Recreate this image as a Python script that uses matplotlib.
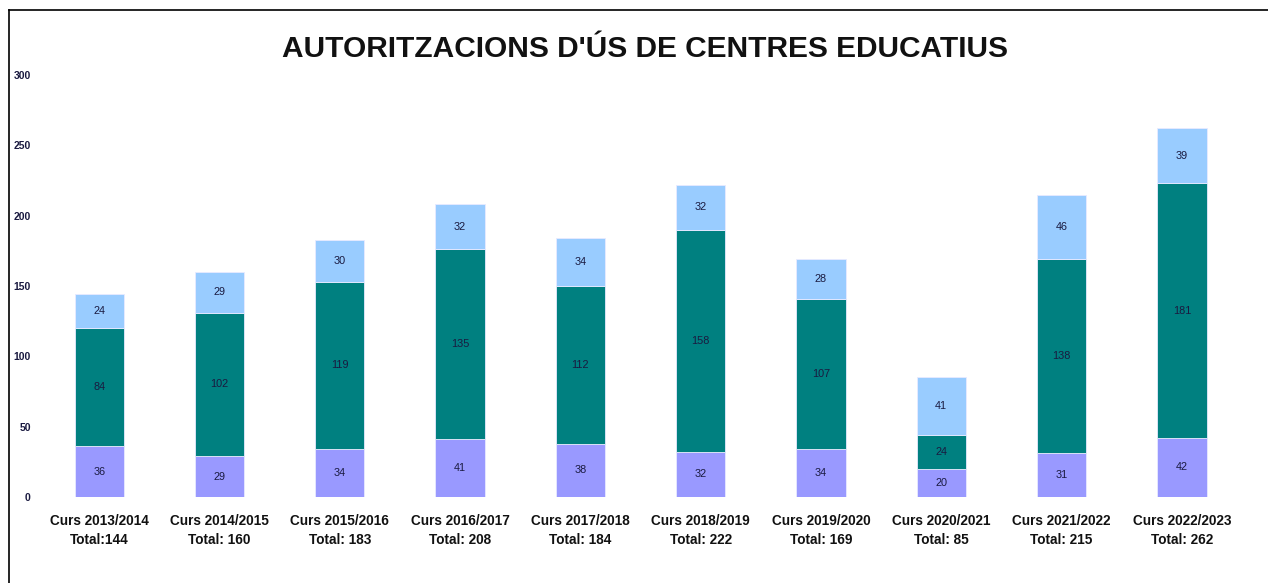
import matplotlib
matplotlib.use("Agg")
import matplotlib.pyplot as plt
from matplotlib.lines import Line2D
import numpy as np

plt.rcParams['font.family'] = ['Liberation Sans', 'DejaVu Sans']

cursos = ["Curs 2013/2014", "Curs 2014/2015", "Curs 2015/2016", "Curs 2016/2017",
          "Curs 2017/2018", "Curs 2018/2019", "Curs 2019/2020", "Curs 2020/2021",
          "Curs 2021/2022", "Curs 2022/2023"]
totals = ["Total:144", "Total: 160", "Total: 183", "Total: 208", "Total: 184",
          "Total: 222", "Total: 169", "Total: 85", "Total: 215", "Total: 262"]
serie_baixa = [36, 29, 34, 41, 38, 32, 34, 20, 31, 42]
serie_mitja = [84, 102, 119, 135, 112, 158, 107, 24, 138, 181]
serie_alta = [24, 29, 30, 32, 34, 32, 28, 41, 46, 39]
yticks = [0, 50, 100, 150, 200, 250, 300]

colors = ["#9999FF", "#008080", "#99CCFF"]
label_color = "#1a1a40"

fig = plt.figure(figsize=(12.68, 5.83), dpi=100)
ax = fig.add_axes([0.0308, 0.1475, 0.9487, 0.7239])

x = np.arange(len(cursos))
w = 0.41
bottom = np.zeros(len(x))
for vals, c in zip([serie_baixa, serie_mitja, serie_alta], colors):
    bars = ax.bar(x, vals, w, bottom=bottom, color=c, edgecolor="#e8eaff", linewidth=0.6)
    ax.bar_label(bars, labels=[str(v) for v in vals], label_type='center',
                 fontsize=7.8, color=label_color)
    bottom += np.array(vals)

ax.set_xlim(-0.5, len(x) - 0.5)
ax.set_ylim(0, 300)
ax.set_yticks(yticks)
ax.set_yticklabels([str(t) for t in yticks], fontsize=7.5, color=label_color, fontweight='bold')
ax.set_xticks(x)
ax.set_xticklabels([f"{c}\n{t}" for c, t in zip(cursos, totals)], fontsize=9.8,
                   fontweight='bold', color="#111111", linespacing=1.5)
ax.tick_params(axis='y', length=0, pad=6)
ax.tick_params(axis='x', length=0, pad=12)
for s in ax.spines.values():
    s.set_visible(False)

fig.text(0.5087, 0.916, "AUTORITZACIONS D'ÚS DE CENTRES EDUCATIUS", ha='center', va='center',
         fontsize=21.5, fontweight='bold', color="#111111")

fig.add_artist(Line2D([9/1268, 1], [1 - 10/583, 1 - 10/583], color='black', lw=1.2,
                      transform=fig.transFigure))
fig.add_artist(Line2D([9/1268, 9/1268], [0, 1 - 10/583], color='black', lw=1.2,
                      transform=fig.transFigure))

fig.savefig("out.png", dpi=100)
